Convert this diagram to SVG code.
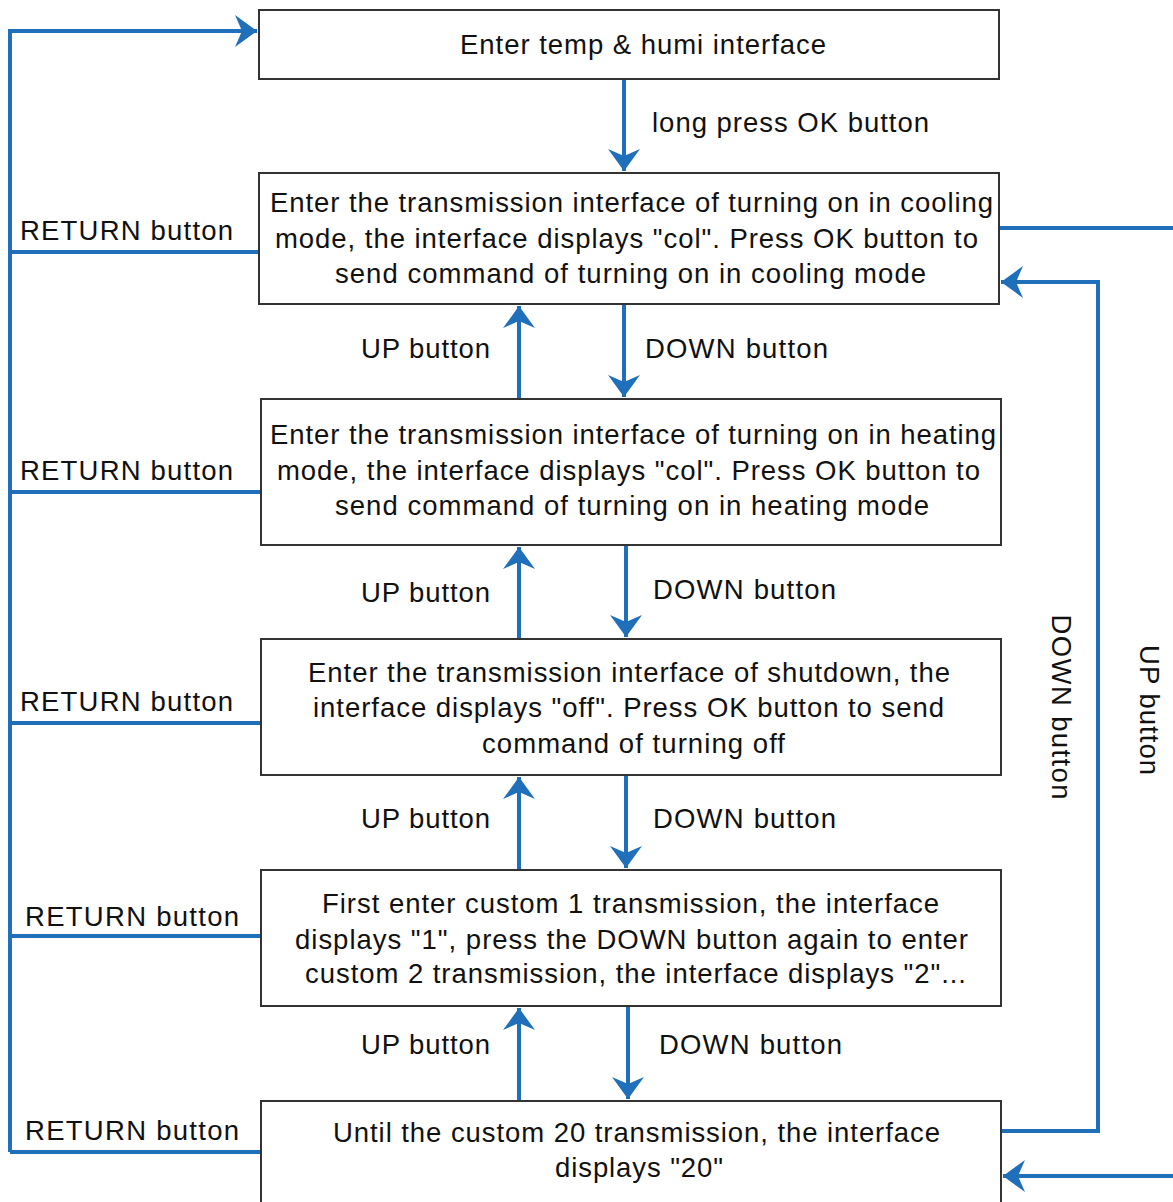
<svg xmlns="http://www.w3.org/2000/svg" width="1173" height="1202" viewBox="0 0 1173 1202">
<style>
.box{fill:#fff;stroke:#333;stroke-width:2}
.t{font-family:"Liberation Sans",Arial,sans-serif;font-size:27.5px;fill:#111}
.c{text-anchor:middle}
.ln{fill:none;stroke:#1f6fba;stroke-width:4;stroke-linejoin:miter}
</style>
<defs>
<marker id="ah" markerUnits="userSpaceOnUse" viewBox="-24 -17 26 34" refX="0" refY="0" markerWidth="26" markerHeight="34" orient="auto">
<path d="M0,0 L-22,-16 L-15,0 L-22,16 Z" fill="#1f6fba"/>
</marker>
</defs>
<rect width="1173" height="1202" fill="#fff"/>
<g id="connectors">
<polyline class="ln" points="10,1152 10,31 257,31" marker-end="url(#ah)"/>
<line class="ln" x1="259" y1="252" x2="10" y2="252"/>
<line class="ln" x1="261" y1="492" x2="10" y2="492"/>
<line class="ln" x1="261" y1="723" x2="10" y2="723"/>
<line class="ln" x1="261" y1="936" x2="10" y2="936"/>
<line class="ln" x1="261" y1="1152" x2="10" y2="1152"/>
<polyline class="ln" points="999,228 1185,228 1185,1176 1003,1176" marker-end="url(#ah)"/>
<polyline class="ln" points="1001,1131 1098,1131 1098,282 1001,282" marker-end="url(#ah)"/>
<line class="ln" x1="624" y1="79" x2="624" y2="171" marker-end="url(#ah)"/>
<line class="ln" x1="519" y1="399" x2="519" y2="306" marker-end="url(#ah)"/>
<line class="ln" x1="624" y1="304" x2="624" y2="397" marker-end="url(#ah)"/>
<line class="ln" x1="519" y1="639" x2="519" y2="547" marker-end="url(#ah)"/>
<line class="ln" x1="626" y1="545" x2="626" y2="637" marker-end="url(#ah)"/>
<line class="ln" x1="519" y1="870" x2="519" y2="777" marker-end="url(#ah)"/>
<line class="ln" x1="626" y1="775" x2="626" y2="868" marker-end="url(#ah)"/>
<line class="ln" x1="519" y1="1101" x2="519" y2="1008" marker-end="url(#ah)"/>
<line class="ln" x1="628" y1="1006" x2="628" y2="1099" marker-end="url(#ah)"/>
</g>
<g id="labels">
<text class="t" x="652" y="132" textLength="277" lengthAdjust="spacing">long press OK button</text>
<text class="t" x="20" y="240" textLength="213" lengthAdjust="spacing">RETURN button</text>
<text class="t" x="20" y="480" textLength="213" lengthAdjust="spacing">RETURN button</text>
<text class="t" x="20" y="711" textLength="213" lengthAdjust="spacing">RETURN button</text>
<text class="t" x="25" y="926" textLength="214" lengthAdjust="spacing">RETURN button</text>
<text class="t" x="25" y="1140" textLength="214" lengthAdjust="spacing">RETURN button</text>
<text class="t" x="361" y="358" textLength="129" lengthAdjust="spacing">UP button</text>
<text class="t" x="361" y="602" textLength="129" lengthAdjust="spacing">UP button</text>
<text class="t" x="361" y="828" textLength="129" lengthAdjust="spacing">UP button</text>
<text class="t" x="361" y="1054" textLength="129" lengthAdjust="spacing">UP button</text>
<text class="t" x="645" y="358" textLength="183" lengthAdjust="spacing">DOWN button</text>
<text class="t" x="653" y="599" textLength="183" lengthAdjust="spacing">DOWN button</text>
<text class="t" x="653" y="828" textLength="183" lengthAdjust="spacing">DOWN button</text>
<text class="t" x="659" y="1054" textLength="183" lengthAdjust="spacing">DOWN button</text>
<text class="t c" transform="translate(1052,707) rotate(90)" textLength="185" lengthAdjust="spacing">DOWN button</text>
<text class="t c" transform="translate(1140,710) rotate(90)" textLength="130" lengthAdjust="spacing">UP button</text>
</g>
<g id="n1">
<rect class="box" x="259" y="10" width="740" height="69"/>
<text class="t c" x="643" y="54" textLength="366" lengthAdjust="spacing">Enter temp &amp; humi interface</text>
</g>
<g id="n2">
<rect class="box" x="259" y="173" width="740" height="131"/>
<text class="t c" x="631.5" y="212" textLength="723" lengthAdjust="spacing">Enter the transmission interface of turning on in cooling</text>
<text class="t c" x="626.5" y="248" textLength="703" lengthAdjust="spacing">mode, the interface displays "col". Press OK button to</text>
<text class="t c" x="630.5" y="283" textLength="591" lengthAdjust="spacing">send command of turning on in cooling mode</text>
</g>
<g id="n3">
<rect class="box" x="261" y="399" width="740" height="146"/>
<text class="t c" x="633" y="444" textLength="726" lengthAdjust="spacing">Enter the transmission interface of turning on in heating</text>
<text class="t c" x="628.5" y="480" textLength="703" lengthAdjust="spacing">mode, the interface displays "col". Press OK button to</text>
<text class="t c" x="632" y="515" textLength="594" lengthAdjust="spacing">send command of turning on in heating mode</text>
</g>
<g id="n4">
<rect class="box" x="261" y="639" width="740" height="136"/>
<text class="t c" x="629" y="682" textLength="642" lengthAdjust="spacing">Enter the transmission interface of shutdown, the</text>
<text class="t c" x="628.5" y="717" textLength="631" lengthAdjust="spacing">interface displays "off". Press OK button to send</text>
<text class="t c" x="633.5" y="753" textLength="303" lengthAdjust="spacing">command of turning off</text>
</g>
<g id="n5">
<rect class="box" x="261" y="870" width="740" height="136"/>
<text class="t c" x="630.5" y="913" textLength="617" lengthAdjust="spacing">First enter custom 1 transmission, the interface</text>
<text class="t c" x="631.5" y="949" textLength="673" lengthAdjust="spacing">displays "1", press the DOWN button again to enter</text>
<text class="t c" x="635.5" y="983" textLength="661" lengthAdjust="spacing">custom 2 transmission, the interface displays "2"...</text>
</g>
<g id="n6">
<rect class="box" x="261" y="1101" width="740" height="120"/>
<text class="t c" x="636.5" y="1142" textLength="607" lengthAdjust="spacing">Until the custom 20 transmission, the interface</text>
<text class="t c" x="639" y="1177" textLength="168" lengthAdjust="spacing">displays "20"</text>
</g>
</svg>
